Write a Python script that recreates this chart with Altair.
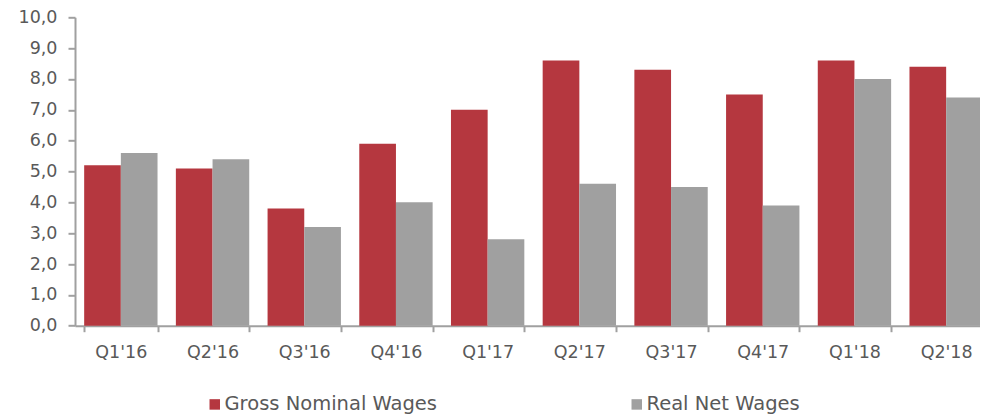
import altair as alt
import pandas as pd

quarters = ["Q1'16", "Q2'16", "Q3'16", "Q4'16", "Q1'17", "Q2'17", "Q3'17", "Q4'17", "Q1'18", "Q2'18"]
gross_nominal = [5.2, 5.1, 3.8, 5.9, 7.0, 8.6, 8.3, 7.5, 8.6, 8.4]
real_net = [5.6, 5.4, 3.2, 4.0, 2.8, 4.6, 4.5, 3.9, 8.0, 7.4]
series = ["Gross Nominal Wages", "Real Net Wages"]
colors = ["#B5373F", "#A0A0A0"]
y_ticks = [0, 1, 2, 3, 4, 5, 6, 7, 8, 9, 10]

rows = []
for q, g, r in zip(quarters, gross_nominal, real_net):
    rows.append({"quarter": q, "series": series[0], "value": g})
    rows.append({"quarter": q, "series": series[1], "value": r})
df = pd.DataFrame(rows)

FONT = "DejaVu Sans"
TXT = "#595959"
AX = "#A0A0A0"

chart = alt.Chart(df).mark_bar().encode(
    x=alt.X("quarter:N", sort=quarters, title=None,
            scale=alt.Scale(paddingInner=0.2, paddingOuter=0.1),
            axis=alt.Axis(labelAngle=0, tickBand="extent", tickSize=6, labelPadding=12,
                          domainColor=AX, tickColor=AX, labelColor=TXT,
                          labelFont=FONT, labelFontSize=17.5, domainWidth=2, tickWidth=2)),
    xOffset=alt.XOffset("series:N", sort=series, scale=alt.Scale(paddingInner=0, paddingOuter=0)),
    y=alt.Y("value:Q", title=None,
            scale=alt.Scale(domain=[0, 10], nice=False, zero=True),
            axis=alt.Axis(values=y_ticks, grid=False, tickSize=7, labelPadding=11,
                          labelExpr="replace(format(datum.value, '.1f'), '.', ',')",
                          domainColor=AX, tickColor=AX, labelColor=TXT,
                          labelFont=FONT, labelFontSize=17.5, domainWidth=2, tickWidth=2)),
    color=alt.Color("series:N", sort=series, title=None,
                    scale=alt.Scale(domain=series, range=colors),
                    legend=alt.Legend(orient="none", legendX=130, legendY=377,
                                      direction="horizontal", columns=2, columnPadding=189,
                                      symbolType="square", symbolSize=110, symbolStrokeWidth=0,
                                      labelOffset=0, padding=0, labelFont=FONT,
                                      labelFontSize=19.5, labelColor=TXT, labelLimit=400)),
).properties(
    width=917,
    height=308.4,
    autosize=alt.AutoSizeParams(type="none"),
    padding={"left": 67, "top": 9.3, "right": -12, "bottom": 88.3},
).configure_view(stroke=None)

chart.save("out.html", embed_options={"renderer": "svg", "actions": False})
